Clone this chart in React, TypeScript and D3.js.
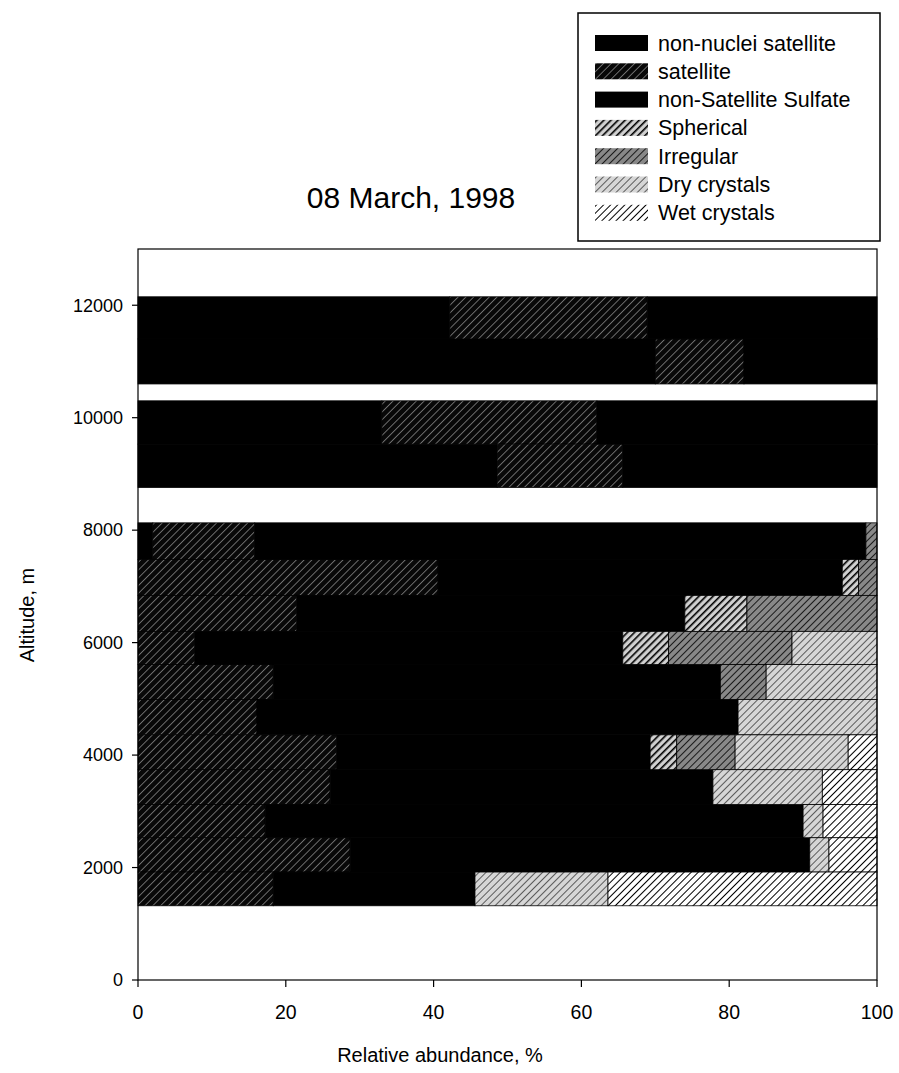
import React from "react";
import * as d3 from "d3";

const seriesNames = [
  "non-nuclei satellite",
  "satellite",
  "non-Satellite Sulfate",
  "Spherical",
  "Irregular",
  "Dry crystals",
  "Wet crystals",
];

// altitude range of each sampled layer (m)
const altTop = [12150, 11400, 10300, 9530, 8130, 7480, 6840, 6200, 5610, 4990, 4360, 3740, 3120, 2530, 1920];
const altBottom = [11400, 10600, 9530, 8760, 7480, 6840, 6200, 5610, 4990, 4360, 3740, 3120, 2530, 1920, 1320];

// relative abundance (%) of each class per layer
const nonNucleiSatellite = [42.2, 70, 33, 48.6, 2, 0, 0, 0, 0, 0, 0, 0, 0, 0, 0];
const satellite = [26.7, 12, 29.1, 17, 13.8, 40.6, 21.5, 7.7, 18.3, 16.1, 26.9, 26, 17.2, 28.7, 18.3];
const nonSatelliteSulfate = [31.1, 18, 37.9, 34.4, 82.7, 54.7, 52.5, 57.9, 60.5, 65.1, 42.4, 51.8, 72.8, 62.2, 27.3];
const spherical = [0, 0, 0, 0, 0, 2.2, 8.4, 6.2, 0, 0, 3.6, 0, 0, 0, 0];
const irregular = [0, 0, 0, 0, 1.5, 2.5, 17.6, 16.7, 6.2, 0, 7.9, 0, 0, 0, 0];
const dryCrystals = [0, 0, 0, 0, 0, 0, 0, 11.5, 15, 18.8, 15.3, 14.8, 2.7, 2.6, 18];
const wetCrystals = [0, 0, 0, 0, 0, 0, 0, 0, 0, 0, 3.9, 7.4, 7.3, 6.5, 36.4];

const xTicks = [0, 20, 40, 60, 80, 100];
const yTicks = [0, 2000, 4000, 6000, 8000, 10000, 12000];

const seriesValues = [
  nonNucleiSatellite,
  satellite,
  nonSatelliteSulfate,
  spherical,
  irregular,
  dryCrystals,
  wetCrystals,
];

const fills = [
  "#000",
  "url(#pSat)",
  "#000",
  "url(#pSph)",
  "url(#pIrr)",
  "url(#pDry)",
  "url(#pWet)",
];

const FONT = "'Liberation Sans', Arial, Helvetica, sans-serif";

export default function App() {
  const W = 899;
  const H = 1073;
  const x = d3.scaleLinear().domain([0, 100]).range([138, 877]);
  const y = d3.scaleLinear().domain([0, 13000]).range([980, 249]);

  const rows = altTop.map((t, i) => {
    const r: any = { top: t, bottom: altBottom[i] };
    seriesNames.forEach((s, k) => (r[s] = seriesValues[k][i]));
    return r;
  });
  const stack = d3.stack<any>().keys(seriesNames)(rows);

  return (
    <svg
      width={W}
      height={H}
      style={{ position: "absolute", left: 0, top: 0, background: "#fff" }}
      fontFamily={FONT}
    >
      <defs>
        <pattern id="pSat" width="5.5" height="5.5" patternUnits="userSpaceOnUse" patternTransform="rotate(45)">
          <rect width="5.5" height="5.5" fill="#080808" />
          <line x1="0" y1="0" x2="0" y2="5.5" stroke="#a0a0a0" strokeWidth="1.3" />
        </pattern>
        <pattern id="pSph" width="5" height="5" patternUnits="userSpaceOnUse" patternTransform="rotate(45)">
          <rect width="5" height="5" fill="#d0d0d0" />
          <line x1="0" y1="0" x2="0" y2="5" stroke="#000" strokeWidth="3.2" />
        </pattern>
        <pattern id="pIrr" width="5" height="5" patternUnits="userSpaceOnUse" patternTransform="rotate(45)">
          <rect width="5" height="5" fill="#888" />
          <line x1="0" y1="0" x2="0" y2="5" stroke="#1a1a1a" strokeWidth="2" />
        </pattern>
        <pattern id="pDry" width="5" height="5" patternUnits="userSpaceOnUse" patternTransform="rotate(45)">
          <rect width="5" height="5" fill="#d6d6d6" />
          <line x1="0" y1="0" x2="0" y2="5" stroke="#3a3a3a" strokeWidth="1.6" />
        </pattern>
        <pattern id="pWet" width="5" height="5" patternUnits="userSpaceOnUse" patternTransform="rotate(45)">
          <rect width="5" height="5" fill="#fff" />
          <line x1="0" y1="0" x2="0" y2="5" stroke="#000" strokeWidth="2" />
        </pattern>
      </defs>

      {/* bars */}
      {stack.map((layer, k) => (
        <g key={seriesNames[k]}>
          {layer.map((d, i) =>
            d[1] - d[0] > 0 ? (
              <rect
                key={i}
                x={x(d[0])}
                width={x(d[1]) - x(d[0])}
                y={y(d.data.top)}
                height={y(d.data.bottom) - y(d.data.top)}
                fill={fills[k]}
                stroke="#000"
                strokeWidth={0.8}
              />
            ) : null
          )}
        </g>
      ))}

      {/* frame */}
      <rect x={x(0)} y={y(13000)} width={x(100) - x(0)} height={y(0) - y(13000)} fill="none" stroke="#000" strokeWidth={1.2} />

      {/* y axis */}
      {yTicks.map((t) => (
        <g key={t}>
          <line x1={x(0) - 6} x2={x(0)} y1={y(t)} y2={y(t)} stroke="#000" strokeWidth={1.2} />
          <text x={x(0) - 15} y={y(t)} dy="0.35em" textAnchor="end" fontSize={18}>
            {t}
          </text>
        </g>
      ))}

      {/* x axis */}
      {xTicks.map((t) => (
        <g key={t}>
          <line x1={x(t)} x2={x(t)} y1={y(0)} y2={y(0) + 7} stroke="#000" strokeWidth={1.2} />
          <text x={x(t)} y={y(0) + 39} textAnchor="middle" fontSize={19.5}>
            {t}
          </text>
        </g>
      ))}

      <text x={440} y={1062} textAnchor="middle" fontSize={20}>
        Relative abundance, %
      </text>
      <text transform={`translate(34,${615}) rotate(-90)`} textAnchor="middle" fontSize={20}>
        Altitude, m
      </text>

      <text x={411} y={208} textAnchor="middle" fontSize={30}>
        08 March, 1998
      </text>

      {/* legend */}
      <rect x={578} y={13} width={302} height={228} fill="#fff" stroke="#000" strokeWidth={1.5} />
      {seriesNames.map((s, k) => (
        <g key={s} transform={`translate(595,${43 + k * 28.3})`}>
          <rect x={0} y={-8} width={53} height={16} fill={fills[k]} />
          <text x={63} y={0} dy="0.35em" fontSize={21.5}>
            {s}
          </text>
        </g>
      ))}
    </svg>
  );
}
